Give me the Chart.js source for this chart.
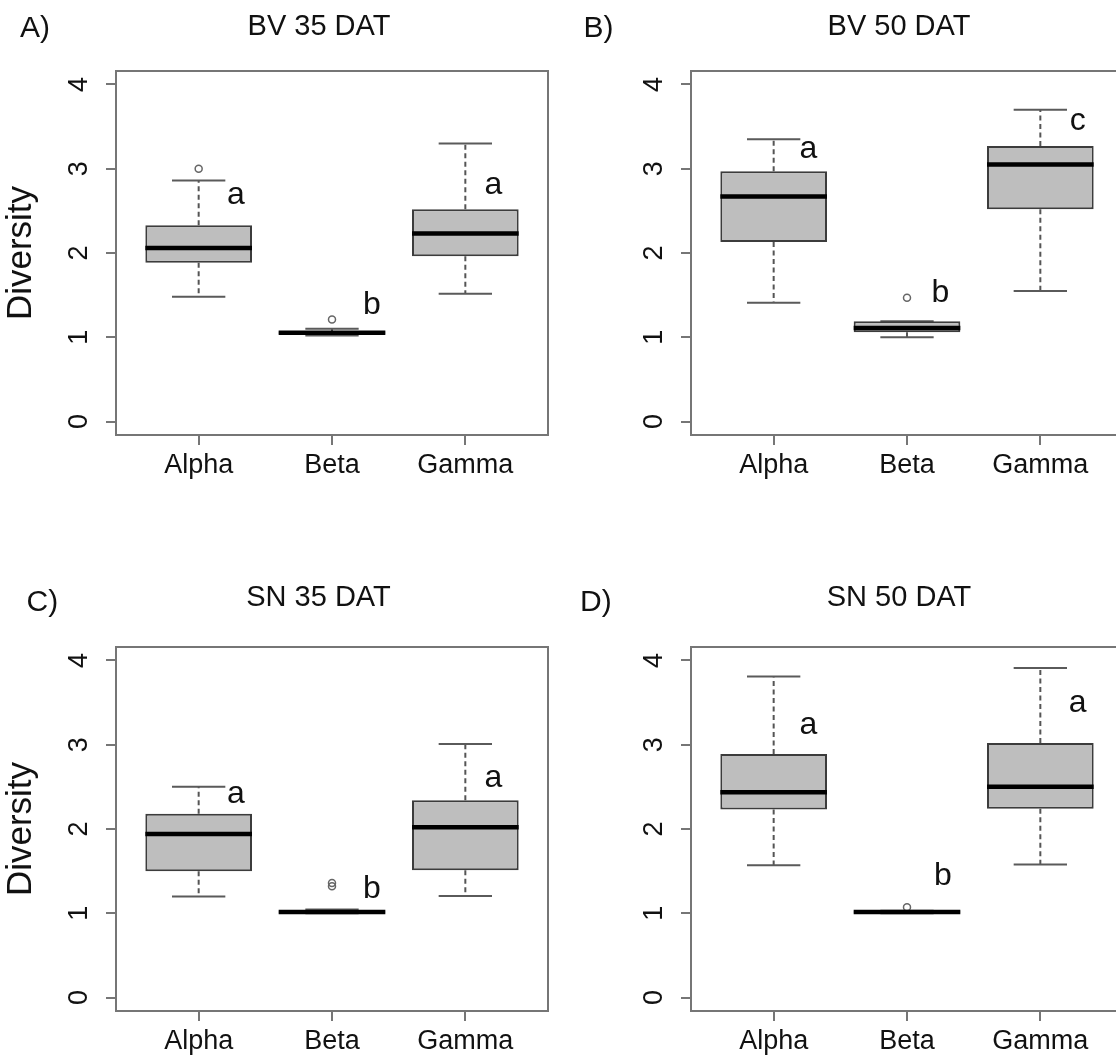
<!DOCTYPE html>
<html>
<head>
<meta charset="utf-8">
<title>Diversity boxplots</title>
<script src="https://cdn.jsdelivr.net/npm/chart.js@4.4.0/dist/chart.umd.min.js"></script>
<style>
  html, body { margin: 0; padding: 0; background: #fff; overflow: hidden; }
  #figure { position: relative; width: 1116px; height: 1059px; overflow: hidden; }
  .panel { position: absolute; width: 575px; height: 576px; }
</style>
</head>
<body>
<div id="figure">
  <div class="panel" style="left:0;top:0"><canvas id="panel0" width="575" height="576"></canvas></div>
  <div class="panel" style="left:575px;top:0"><canvas id="panel1" width="575" height="576"></canvas></div>
  <div class="panel" style="left:0;top:576px"><canvas id="panel2" width="575" height="576"></canvas></div>
  <div class="panel" style="left:575px;top:576px"><canvas id="panel3" width="575" height="576"></canvas></div>
</div>
<script>
const groups = ['Alpha', 'Beta', 'Gamma'];
const yTicks = [0, 1, 2, 3, 4];
const panelTitles = ['BV 35 DAT', 'BV 50 DAT', 'SN 35 DAT', 'SN 50 DAT'];
const panelTags = ['A)', 'B)', 'C)', 'D)'];

// box statistics, one row per panel, one value per group
const lowerWhisker = [
  [1.48, 1.02, 1.515],
  [1.41, 1.00, 1.55],
  [1.20, 1.00, 1.205],
  [1.57, 1.00, 1.58]
];
const q1 = [
  [1.885, 1.04, 1.96],
  [2.13, 1.06, 2.52],
  [1.50, 1.005, 1.51],
  [2.23, 1.005, 2.24]
];
const median = [
  [2.06, 1.055, 2.23],
  [2.67, 1.11, 3.05],
  [1.94, 1.015, 2.02],
  [2.435, 1.015, 2.50]
];
const q3 = [
  [2.33, 1.07, 2.52],
  [2.97, 1.19, 3.27],
  [2.18, 1.025, 2.34],
  [2.89, 1.025, 3.02]
];
const upperWhisker = [
  [2.86, 1.10, 3.30],
  [3.35, 1.19, 3.70],
  [2.50, 1.045, 3.01],
  [3.81, 1.03, 3.91]
];
const outliers = [
  [[3.0], [1.21], []],
  [[], [1.47], []],
  [[], [1.36, 1.32], []],
  [[], [1.07], []]
];

// significance letters and where they sit (axis units)
const letters = [
  ['a', 'b', 'a'],
  ['a', 'b', 'c'],
  ['a', 'b', 'a'],
  ['a', 'b', 'a']
];
const letterX = [
  [1.28, 2.30, 3.21],
  [1.26, 2.25, 3.28],
  [1.28, 2.30, 3.21],
  [1.26, 2.27, 3.28]
];
const letterY = [
  [2.69, 1.38, 2.81],
  [3.23, 1.52, 3.57],
  [2.41, 1.28, 2.60],
  [3.23, 1.44, 3.49]
];

// layout of headings inside each panel cell
const titleX = [319, 324, 318.5, 324];
const titleY = [27, 27, 21.5, 21.5];
const tagX = [20, 8.5, 26.5, 5];
const tagY = [29, 29, 27, 27];

const FONT = '"Liberation Sans", Arial, Helvetica, sans-serif';
const frameColor = '#767676';
const boxHalf = 0.4;
const capHalf = 0.2;

function decorPlugin(p) {
  return {
    id: 'decor' + p,
    afterDraw(chart) {
      const { ctx, chartArea: a, scales: { x, y } } = chart;
      ctx.save();
      ctx.strokeStyle = frameColor;
      ctx.lineWidth = 2;
      ctx.strokeRect(a.left, a.top, a.right - a.left, a.bottom - a.top);

      ctx.fillStyle = '#111';
      ctx.textAlign = 'center';
      ctx.textBaseline = 'middle';
      ctx.font = '32px ' + FONT;
      letters[p].forEach((t, i) => {
        ctx.fillText(t, x.getPixelForValue(letterX[p][i]), y.getPixelForValue(letterY[p][i]));
      });

      ctx.font = '29px ' + FONT;
      ctx.fillText(panelTitles[p], titleX[p], titleY[p]);
      ctx.textAlign = 'left';
      ctx.font = '30px ' + FONT;
      ctx.fillText(panelTags[p], tagX[p], tagY[p]);
      ctx.restore();
    }
  };
}

function makePanel(p) {
  const boxes = [];
  const medianSegs = [];
  const whiskerSegs = [];
  const capSegs = [];
  const outlierPts = [];
  groups.forEach((g, i) => {
    const x = i + 1;
    boxes.push({ x, y: [q1[p][i], q3[p][i]] });
    medianSegs.push({ x: x - boxHalf, y: median[p][i] }, { x: x + boxHalf, y: median[p][i] }, { x, y: null });
    whiskerSegs.push(
      { x, y: q3[p][i] }, { x, y: upperWhisker[p][i] }, { x, y: null },
      { x, y: q1[p][i] }, { x, y: lowerWhisker[p][i] }, { x, y: null }
    );
    capSegs.push(
      { x: x - capHalf, y: upperWhisker[p][i] }, { x: x + capHalf, y: upperWhisker[p][i] }, { x, y: null },
      { x: x - capHalf, y: lowerWhisker[p][i] }, { x: x + capHalf, y: lowerWhisker[p][i] }, { x, y: null }
    );
    outliers[p][i].forEach(v => outlierPts.push({ x, y: v }));
  });

  const segLine = {
    type: 'line',
    pointRadius: 0,
    tension: 0,
    spanGaps: false,
    fill: false,
    borderCapStyle: 'butt'
  };

  return new Chart(document.getElementById('panel' + p), {
    type: 'bar',
    data: {
      datasets: [
        {
          ...segLine,
          data: medianSegs,
          borderColor: '#000',
          borderWidth: 4.5,
          order: 0
        },
        {
          ...segLine,
          data: whiskerSegs,
          borderColor: '#555',
          borderWidth: 2,
          borderDash: [5, 3.5],
          order: 3
        },
        {
          ...segLine,
          data: capSegs,
          borderColor: '#5a5a5a',
          borderWidth: 2,
          order: 2
        },
        {
          type: 'scatter',
          data: outlierPts,
          pointRadius: 3.5,
          pointBorderWidth: 1.5,
          pointBorderColor: '#666',
          pointBackgroundColor: 'rgba(255,255,255,0)',
          order: 1
        },
        {
          type: 'bar',
          data: boxes,
          backgroundColor: '#bebebe',
          borderColor: '#3c3c3c',
          borderWidth: 2,
          borderSkipped: false,
          barPercentage: 0.8,
          categoryPercentage: 1,
          order: 1
        }
      ]
    },
    options: {
      responsive: false,
      animation: false,
      events: [],
      layout: { padding: { top: 71, left: 0, right: 27, bottom: 81 } },
      plugins: {
        legend: { display: false },
        tooltip: { enabled: false },
        title: { display: false }
      },
      scales: {
        x: {
          type: 'linear',
          min: 0.38,
          max: 3.62,
          offset: false,
          afterBuildTicks: (scale) => {
            scale.ticks = groups.map((g, i) => ({ value: i + 1 }));
          },
          afterFit: (scale) => { scale.height = 60; },
          border: { display: false },
          grid: {
            offset: false,
            drawOnChartArea: false,
            drawTicks: true,
            tickLength: 10,
            color: frameColor,
            lineWidth: 2
          },
          ticks: {
            padding: 4,
            color: '#111',
            font: { family: FONT, size: 27 },
            maxRotation: 0,
            autoSkip: false,
            callback: (v) => groups[v - 1]
          }
        },
        y: {
          type: 'linear',
          min: -0.16,
          max: 4.16,
          afterBuildTicks: (scale) => {
            scale.ticks = yTicks.map(v => ({ value: v }));
          },
          afterFit: (scale) => { scale.width = 116; },
          border: { display: false },
          grid: {
            drawOnChartArea: false,
            drawTicks: true,
            tickLength: 10,
            color: frameColor,
            lineWidth: 2
          },
          ticks: {
            padding: 19,
            minRotation: 90,
            maxRotation: 90,
            crossAlign: 'center',
            color: '#111',
            font: { family: FONT, size: 27 },
            callback: (v) => String(v)
          },
          title: {
            display: p % 2 === 0,
            text: 'Diversity',
            color: '#111',
            font: { family: FONT, size: 35 },
            padding: { top: 0, bottom: 0 }
          }
        }
      }
    },
    plugins: [decorPlugin(p)]
  });
}

panelTitles.forEach((t, p) => makePanel(p));
</script>
</body>
</html>
